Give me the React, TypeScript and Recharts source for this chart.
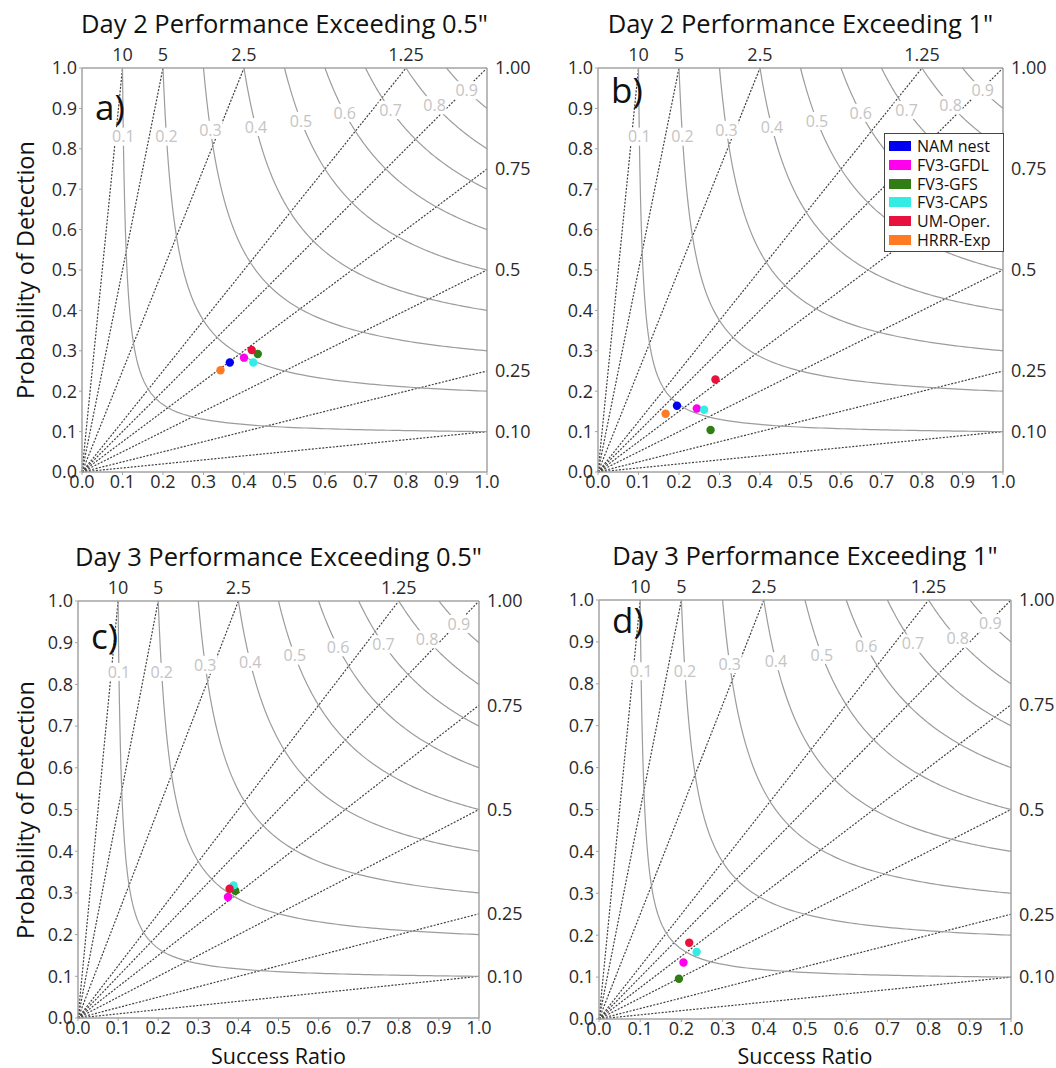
import React from 'react';
import { ScatterChart, Scatter, XAxis, YAxis, ReferenceLine } from 'recharts';

const FONT = '"Open Sans", "Noto Sans", sans-serif';

const models = ['NAM nest', 'FV3-GFDL', 'FV3-GFS', 'FV3-CAPS', 'UM-Oper.', 'HRRR-Exp'];
const modelColors = ['#0000f0', '#ff00ee', '#2f7d14', '#33ece4', '#e8103c', '#ff7a22'];

const axisTicks = [0, 0.1, 0.2, 0.3, 0.4, 0.5, 0.6, 0.7, 0.8, 0.9, 1.0];
const biasValues = [10, 5, 2.5, 1.25, 1, 0.75, 0.5, 0.25, 0.1];
const topBiasTicks = [0.1, 0.2, 0.4, 0.8];
const topBiasLabels = ['10', '5', '2.5', '1.25'];
const rightBiasTicks = [0.1, 0.25, 0.5, 0.75, 1.0];
const rightBiasLabels = ['0.10', '0.25', '0.5', '0.75', '1.00'];
const csiValues = [0.1, 0.2, 0.3, 0.4, 0.5, 0.6, 0.7, 0.8, 0.9];
const csiLabelPod = [0.83, 0.83, 0.847, 0.854, 0.869, 0.889, 0.896, 0.908, 0.945];

// success ratio / POD per model, in the order of `models` (null = not shown)
const day2HalfSR = [0.365, 0.4, 0.434, 0.423, 0.419, 0.342];
const day2HalfPOD = [0.271, 0.283, 0.292, 0.271, 0.302, 0.252];
const day2OneSR = [0.195, 0.244, 0.278, 0.262, 0.29, 0.167];
const day2OnePOD = [0.164, 0.157, 0.104, 0.154, 0.229, 0.144];
const day3HalfSR = [null, 0.374, 0.392, 0.388, 0.378, null];
const day3HalfPOD = [null, 0.29, 0.305, 0.318, 0.31, null];
const day3OneSR = [null, 0.205, 0.194, 0.237, 0.219, null];
const day3OnePOD = [null, 0.135, 0.096, 0.16, 0.182, null];

// CSI isoline: CSI = 1 / (1/SR + 1/POD - 1)
function csiCurve(c: number) {
  const pts: { x: number; y: number }[] = [];
  const s = (2 * c) / (1 + c);
  const n = 60;
  for (let i = 0; i <= n; i++) {
    const pod = 1 - (1 - s) * (i / n);
    pts.push({ x: 1 / (1 / c + 1 - 1 / pod), y: pod });
  }
  for (let i = 1; i <= n; i++) {
    const sr = s + (1 - s) * (i / n);
    pts.push({ x: sr, y: 1 / (1 / c + 1 - 1 / sr) });
  }
  return pts;
}

const csiLabels = csiValues.map((c, i) => {
  const pod = csiLabelPod[i];
  return { x: 1 / (1 / c + 1 - 1 / pod), y: pod, label: String(c) };
});

const NoDot = () => <g />;

const CsiLabel = (props: any) => {
  const { cx, cy, payload } = props;
  return (
    <g>
      <rect x={cx - 12} y={cy - 9} width={24} height={18} fill="#fff" />
      <text x={cx} y={cy} dy="0.36em" textAnchor="middle" fontSize={16} fill="#c4c4c4" fontFamily={FONT}>
        {payload.label}
      </text>
    </g>
  );
};

type Rect = { x0: number; y0: number; x1: number; y1: number };

interface PanelProps {
  title: string;
  tag: string;
  tagTop: number;
  rect: Rect;
  sr: (number | null)[];
  pod: (number | null)[];
  yLabel?: boolean;
  xLabel?: boolean;
  legend?: boolean;
}

const frame = '#a3a3a3';
const tickStyle = { fill: '#2a2a2a', fontSize: 18, fontFamily: FONT };

const Panel = ({ title, tag, tagTop, rect, sr, pod, yLabel, xLabel, legend }: PanelProps) => {
  const plotW = rect.x1 - rect.x0;
  const plotH = rect.y1 - rect.y0;
  const padL = 60, padT = 35, padR = 55, padB = 35;
  const points = models
    .map((name, i) => ({ name, color: modelColors[i], x: sr[i], y: pod[i] }))
    .filter((p) => p.x != null && p.y != null);

  return (
    <>
      <div
        style={{
          position: 'absolute', left: rect.x0 - 60, width: plotW + 120, top: rect.y0 - 57,
          textAlign: 'center', fontSize: 25.5, lineHeight: 1, fontFamily: FONT, color: '#111',
          whiteSpace: 'nowrap',
        }}
      >
        {title}
      </div>
      <div style={{ position: 'absolute', left: rect.x0 - padL, top: rect.y0 - padT }}>
        <ScatterChart
          width={plotW + padL + padR}
          height={plotH + padT + padB}
          margin={{ top: padT - 25, right: padR - 48, bottom: padB - 25, left: padL - 48 }}
        >
          <XAxis
            xAxisId="bottom" dataKey="x" type="number" domain={[0, 1]} ticks={axisTicks} interval={0}
            height={25} tickSize={3} tickMargin={0} tick={tickStyle}
            tickFormatter={(v: number) => v.toFixed(1)}
            axisLine={{ stroke: frame, strokeWidth: 1.5 }} tickLine={{ stroke: frame }}
          />
          <XAxis
            xAxisId="top" orientation="top" dataKey="x" type="number" domain={[0, 1]} ticks={topBiasTicks}
            interval={0} height={25} tickLine={false} tickMargin={1} tick={tickStyle}
            tickFormatter={(v: number) => topBiasLabels[topBiasTicks.indexOf(v)]}
            axisLine={{ stroke: frame, strokeWidth: 1.5 }}
          />
          <YAxis
            yAxisId="left" dataKey="y" type="number" domain={[0, 1]} ticks={axisTicks} interval={0}
            width={48} tickSize={3} tickMargin={2} tick={tickStyle}
            tickFormatter={(v: number) => v.toFixed(1)}
            axisLine={{ stroke: frame, strokeWidth: 1.5 }} tickLine={{ stroke: frame }}
          />
          <YAxis
            yAxisId="right" orientation="right" dataKey="y" type="number" domain={[0, 1]} ticks={rightBiasTicks}
            interval={0} width={48} tickLine={false} tickMargin={2} tick={tickStyle}
            tickFormatter={(v: number) => rightBiasLabels[rightBiasTicks.indexOf(v)]}
            axisLine={{ stroke: frame, strokeWidth: 1.5 }}
          />
          {csiValues.map((c) => (
            <Scatter
              key={'csi' + c}
              xAxisId="bottom" yAxisId="left"
              data={csiCurve(c)}
              line={{ stroke: '#9c9c9c', strokeWidth: 1.2 }}
              lineType="joint"
              shape={NoDot}
              isAnimationActive={false}
            />
          ))}
          <Scatter
            xAxisId="top" yAxisId="right" data={csiLabels} shape={CsiLabel} isAnimationActive={false}
          />
          {biasValues.map((b) => (
            <ReferenceLine
              key={'bias' + b}
              xAxisId="bottom" yAxisId="left"
              segment={[{ x: 0, y: 0 }, { x: b >= 1 ? 1 / b : 1, y: b >= 1 ? 1 : b }]}
              stroke="#404040" strokeWidth={1.2} strokeDasharray="2 1.5"
            />
          ))}
          {points.map((p) => (
            <Scatter
              key={p.name}
              name={p.name}
              xAxisId="bottom" yAxisId="left"
              data={[{ x: p.x, y: p.y }]}
              fill={p.color}
              shape={(s: any) => <circle cx={s.cx} cy={s.cy} r={4.2} fill={p.color} />}
              isAnimationActive={false}
            />
          ))}
        </ScatterChart>
      </div>
      <div
        style={{
          position: 'absolute', left: rect.x0 + 13, top: tagTop, fontSize: 35, lineHeight: 1,
          fontFamily: FONT, color: '#111',
        }}
      >
        {tag}
      </div>
      {yLabel && (
        <div
          style={{
            position: 'absolute', left: 26, top: (rect.y0 + rect.y1) / 2, whiteSpace: 'nowrap',
            transform: 'translate(-50%, -50%) rotate(-90deg)', fontSize: 23.5, lineHeight: 1,
            fontFamily: FONT, color: '#111',
          }}
        >
          Probability of Detection
        </div>
      )}
      {xLabel && (
        <div
          style={{
            position: 'absolute', left: rect.x0, width: plotW, top: 1045, textAlign: 'center',
            fontSize: 21.5, lineHeight: 1, fontFamily: FONT, color: '#111',
          }}
        >
          Success Ratio
        </div>
      )}
      {legend && (
        <div
          style={{
            position: 'absolute', left: rect.x1 - 119, top: rect.y0 + 65, width: 120, height: 119,
            border: '1px solid #444', background: '#fff', fontFamily: FONT, fontSize: 16,
            boxSizing: 'border-box', padding: '3px 0 0 4px', whiteSpace: 'nowrap',
          }}
        >
          {models.map((m, i) => (
            <div key={m} style={{ display: 'flex', alignItems: 'center', height: 18.7 }}>
              <span style={{ display: 'inline-block', width: 22, height: 10, background: modelColors[i], marginRight: 6 }} />
              <span style={{ color: '#111', lineHeight: 1 }}>{m}</span>
            </div>
          ))}
        </div>
      )}
    </>
  );
};

const App = () => (
  <div style={{ position: 'absolute', left: 0, top: 0, width: 1056, height: 1068, background: '#fff' }}>
    <Panel
      title={'Day 2 Performance Exceeding 0.5"'} tag="a)" tagTop={89}
      rect={{ x0: 82, y0: 68, x1: 487, y1: 472 }} sr={day2HalfSR} pod={day2HalfPOD} yLabel
    />
    <Panel
      title={'Day 2 Performance Exceeding 1"'} tag="b)" tagTop={72}
      rect={{ x0: 598, y0: 68, x1: 1003, y1: 472 }} sr={day2OneSR} pod={day2OnePOD} legend
    />
    <Panel
      title={'Day 3 Performance Exceeding 0.5"'} tag="c)" tagTop={618}
      rect={{ x0: 78, y0: 601, x1: 479, y1: 1018 }} sr={day3HalfSR} pod={day3HalfPOD} yLabel xLabel
    />
    <Panel
      title={'Day 3 Performance Exceeding 1"'} tag="d)" tagTop={602}
      rect={{ x0: 599, y0: 600, x1: 1011, y1: 1019 }} sr={day3OneSR} pod={day3OnePOD} xLabel
    />
  </div>
);

export default App;
